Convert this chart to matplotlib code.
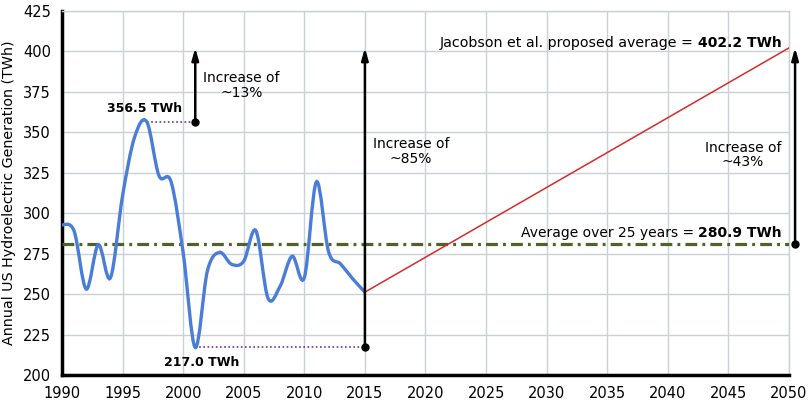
import matplotlib
matplotlib.use("Agg")
import matplotlib.pyplot as plt
from matplotlib.path import Path
from matplotlib.patches import PathPatch

# Annual US hydroelectric generation (TWh)
years = list(range(1990, 2016))
generation = [292.9, 289.0, 253.1, 280.5, 260.1, 310.8, 347.2, 356.5, 323.3,
              319.5, 275.6, 217.0, 264.3, 275.8, 268.4, 270.3, 289.2, 247.5,
              254.8, 273.4, 260.2, 319.4, 276.2, 268.6, 259.4, 251.2]

average_25 = 280.9
proposed = 402.2
peak_year, peak_value = 1997, 356.5
low_year, low_value = 2001, 217.0
target_year = 2050

x_ticks = list(range(1990, 2051, 5))
y_ticks = list(range(200, 426, 25))

plt.rcParams["font.family"] = ["DejaVu Sans"]


def smooth_path(xs, ys):
    # Excel-style smoothed line: cubic Bezier segments through every point.
    verts = [(xs[0], ys[0])]
    codes = [Path.MOVETO]
    n = len(xs)
    for i in range(n - 1):
        x0, y0 = xs[max(i - 1, 0)], ys[max(i - 1, 0)]
        x1, y1 = xs[i], ys[i]
        x2, y2 = xs[i + 1], ys[i + 1]
        x3, y3 = xs[min(i + 2, n - 1)], ys[min(i + 2, n - 1)]
        c1 = (x1 + (x2 - x0) / 6, y1 + (y2 - y0) / 6)
        c2 = (x2 - (x3 - x1) / 6, y2 - (y3 - y1) / 6)
        verts += [c1, c2, (x2, y2)]
        codes += [Path.CURVE4] * 3
    return Path(verts, codes)


fig = plt.figure(figsize=(8.08, 4.08), dpi=100)
ax = fig.add_axes([0.0767, 0.081, 0.8998, 0.892])

# Historical data (smoothed).
ax.add_patch(PathPatch(smooth_path(years, generation), fill=False,
                       edgecolor="#4a7dd8", lw=2.4, zorder=4))

# 25-year average.
ax.plot([1990, target_year], [average_25, average_25], color="#4f6228",
        lw=2.3, dashes=(3.7, 1.6, 0.9, 1.6), zorder=3)

# Proposed growth line.
ax.plot([years[-1], target_year], [generation[-1], proposed],
        color="#d52b2b", lw=1.1, zorder=3)

# Dotted guide lines.
ax.plot([peak_year, low_year], [peak_value, peak_value], color="#7030a0",
        lw=1.2, ls=(0, (1, 1.5)), zorder=3)
ax.plot([low_year, years[-1]], [low_value, low_value], color="#7030a0",
        lw=1.2, ls=(0, (1, 1.5)), zorder=3)

# Increase arrows with a dot at the base.
arrows = [(low_year, peak_value), (years[-1], low_value),
          (target_year + 0.5, average_25)]
for ax_x, base in arrows:
    ax.annotate("", xy=(ax_x, proposed), xytext=(ax_x, base),
                arrowprops=dict(arrowstyle="-|>,head_length=0.7,head_width=0.2",
                                color="black", lw=1.8, shrinkA=0, shrinkB=0),
                annotation_clip=False, zorder=5)
    ax.plot(ax_x, base, "o", color="black", ms=5, clip_on=False, zorder=6)

# Labels.
ax.text(2004.8, 379, "Increase of\n~13%", ha="center", va="center",
        fontsize=10, linespacing=1.05)
ax.text(2018.8, 338, "Increase of\n~85%", ha="center", va="center",
        fontsize=10, linespacing=1.05)
ax.text(2046.2, 336, "Increase of\n~43%", ha="center", va="center",
        fontsize=10, linespacing=1.05)
ax.text(1996.8, 364.5, f"{peak_value:.1f} TWh", ha="center", va="center",
        fontsize=9, fontweight="bold")
ax.text(2001.5, 207.5, f"{low_value:.1f} TWh", ha="center", va="center",
        fontsize=9, fontweight="bold")

b1 = ax.text(2049.4, 405.5, f"{proposed:.1f} TWh", ha="right", va="center",
             fontsize=10, fontweight="bold")
ax.annotate("Jacobson et al. proposed average = ", xy=(0, 0.5),
            xycoords=b1, ha="right", va="center", fontsize=10.3)
b2 = ax.text(2049.4, 287.7, f"{average_25:.1f} TWh", ha="right", va="center",
             fontsize=10, fontweight="bold")
ax.annotate("Average over 25 years = ", xy=(0, 0.5),
            xycoords=b2, ha="right", va="center", fontsize=10)

# Axes styling.
ax.set_xlim(1990, target_year)
ax.set_ylim(200, 425)
ax.set_xticks(x_ticks)
ax.set_yticks(y_ticks)
ax.tick_params(length=0, labelsize=10.5, pad=8)
ax.grid(True, color="#c9d1d5", lw=1.0)
ax.set_axisbelow(True)
for side in ["top", "right"]:
    ax.spines[side].set_color("#c9d1d5")
    ax.spines[side].set_linewidth(1.0)
for side in ["left", "bottom"]:
    ax.spines[side].set_color("black")
    ax.spines[side].set_linewidth(2.5)
ax.set_ylabel("Annual US Hydroelectric Generation (TWh)", fontsize=10.3,
              labelpad=5)

fig.savefig("out.png", dpi=100)
